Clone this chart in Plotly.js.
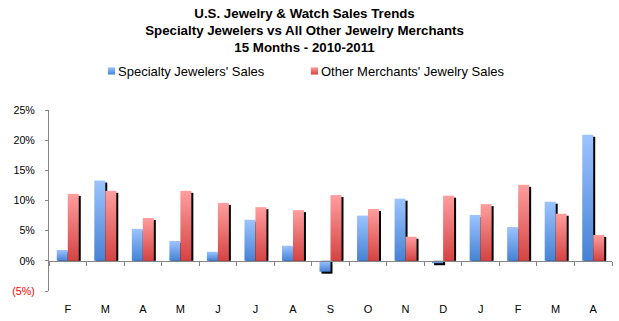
<!DOCTYPE html>
<html>
<head>
<meta charset="utf-8">
<script src="https://cdn.plot.ly/plotly-3.0.1.min.js"></script>
<style>
html,body{margin:0;padding:0;background:#fff;}
#chart{width:619px;height:321px;}
</style>
</head>
<body>
<div id="chart"></div>
<script>
// ---- data ----
var months = ['Feb 2010','Mar 2010','Apr 2010','May 2010','Jun 2010','Jul 2010','Aug 2010','Sep 2010','Oct 2010','Nov 2010','Dec 2010','Jan 2011','Feb 2011','Mar 2011','Apr 2011'];
var monthLetters = ['F','M','A','M','J','J','A','S','O','N','D','J','F','M','A'];
var specialtySales = [1.8, 13.3, 5.3, 3.3, 1.5, 6.8, 2.5, -1.8, 7.5, 10.3, -0.4, 7.6, 5.6, 9.8, 20.9];
var otherSales = [11.1, 11.6, 7.1, 11.6, 9.6, 8.9, 8.4, 10.9, 8.6, 4.0, 10.8, 9.4, 12.6, 7.8, 4.3];
var yTickVals = [-5, 0, 5, 10, 15, 20, 25];
var yTickText = ['<span style="color:#ff0000">(5%)</span>', '0%', '5%', '10%', '15%', '20%', '25%'];

// ---- style ----
var W = 0.293, SH = 0.053, DROP = 0.33;
var font = 'Liberation Sans, Arial, sans-serif';
function shifted(arr){ return arr.map(function(v){ return v - DROP; }); }

var traces = [
  {type:'bar', x:months, y:shifted(specialtySales), xaxis:'x', yaxis:'y', width:W, offset:-W+SH,
   marker:{color:'#000000'}, showlegend:false, hoverinfo:'skip'},
  {type:'bar', x:months, y:shifted(otherSales), xaxis:'x', yaxis:'y', width:W, offset:SH,
   marker:{color:'#000000'}, showlegend:false, hoverinfo:'skip'},
  {type:'bar', name:"Specialty Jewelers' Sales", x:months, y:specialtySales, xaxis:'x2', yaxis:'y',
   width:W, offset:-W, marker:{color:'#72a3ec'}, legend:'legend'},
  {type:'bar', name:"Other Merchants' Jewelry Sales", x:months, y:otherSales, xaxis:'x2', yaxis:'y',
   width:W, offset:0, marker:{color:'#ec7272'}, legend:'legend2'}
];

var legendCommon = {orientation:'h', xanchor:'left', y:1.2155, yanchor:'middle',
  font:{family:font, size:13, color:'#000000'}, bgcolor:'rgba(0,0,0,0)', itemwidth:30};

var layout = {
  width:619, height:321,
  margin:{l:49, r:7, t:110, b:30, pad:0},
  paper_bgcolor:'#ffffff', plot_bgcolor:'#ffffff',
  barmode:'overlay',
  font:{family:font, size:11, color:'#000000'},
  title:{text:'<b>U.S. Jewelry &amp; Watch Sales Trends<br>Specialty Jewelers vs All Other Jewelry Merchants<br>15 Months - 2010-2011</b>',
         font:{family:font, size:13.3, color:'#000000'}, x:0.492, xanchor:'center', xref:'container',
         y:0.945, yanchor:'top', yref:'container'},
  showlegend:true,
  legend:Object.assign({}, legendCommon, {x:0.0515}),
  legend2:Object.assign({}, legendCommon, {x:0.412}),
  xaxis:{type:'category', categoryorder:'array', categoryarray:months, range:[-0.5, 14.5],
         tickvals:months, ticktext:monthLetters, showline:false, showgrid:false, zeroline:false,
         ticks:'', ticklabelstandoff:10, tickfont:{family:font, size:11}, fixedrange:true},
  xaxis2:{type:'category', categoryorder:'array', categoryarray:months, range:[-0.5, 14.5],
          overlaying:'x', anchor:'free', position:30/181, side:'bottom',
          showline:true, linecolor:'#868686', linewidth:1, showgrid:false, zeroline:false,
          ticks:'outside', ticklen:4, tickcolor:'#868686', tickson:'boundaries',
          showticklabels:false, fixedrange:true},
  yaxis:{range:[-5, 25], tickvals:yTickVals, ticktext:yTickText, showgrid:false, zeroline:false,
         showline:true, linecolor:'#868686', linewidth:1, ticks:'outside', ticklen:3,
         tickcolor:'#868686', tickfont:{family:font, size:10.7}, ticklabelstandoff:8, fixedrange:true}
};

var ns = 'http://www.w3.org/2000/svg';
function ensureGradients(gd){
  var svg = gd.querySelector('.main-svg');
  var defs = svg.querySelector('defs');
  function grad(id, top, bottom){
    if (svg.querySelector('#' + id)) return;
    var g = document.createElementNS(ns, 'linearGradient');
    g.setAttribute('id', id); g.setAttribute('x1','0'); g.setAttribute('y1','0');
    g.setAttribute('x2','0'); g.setAttribute('y2','1');
    [[0, top],[1, bottom]].forEach(function(s){
      var st = document.createElementNS(ns, 'stop');
      st.setAttribute('offset', s[0]); st.setAttribute('stop-color', s[1]);
      g.appendChild(st);
    });
    defs.appendChild(g);
  }
  grad('gBlue', '#9cc4ff', '#4682d4');
  grad('gRed', '#ff9e9e', '#d44343');
}
function restyleSvg(gd){
  ensureGradients(gd);
  var colorMap = {'rgb(114, 163, 236)':'url(#gBlue)', 'rgb(236, 114, 114)':'url(#gRed)'};
  gd.querySelectorAll('.barlayer .trace path, .legendpoints path').forEach(function(p){
    var f = p.style.fill;
    if (colorMap[f]) p.style.fill = colorMap[f];
  });
  // smaller legend swatches placed close to their text
  gd.querySelectorAll('.legendpoints').forEach(function(lp){
    var item = lp.parentNode;
    var txt = item ? item.querySelector('.legendtext') : null;
    var tx = txt ? (parseFloat(txt.getAttribute('x')) || 40) : 40;
    lp.querySelectorAll('path').forEach(function(p){
      p.setAttribute('transform', 'translate(' + (tx - 6.5) + ',0) scale(0.6)');
    });
  });
}

Plotly.newPlot('chart', traces, layout, {displayModeBar:false, staticPlot:true}).then(function(gd){
  restyleSvg(gd);
  gd.on('plotly_afterplot', function(){ restyleSvg(gd); });
  setTimeout(function(){ restyleSvg(gd); }, 0);
  setTimeout(function(){ restyleSvg(gd); }, 100);
});
</script>
</body>
</html>
